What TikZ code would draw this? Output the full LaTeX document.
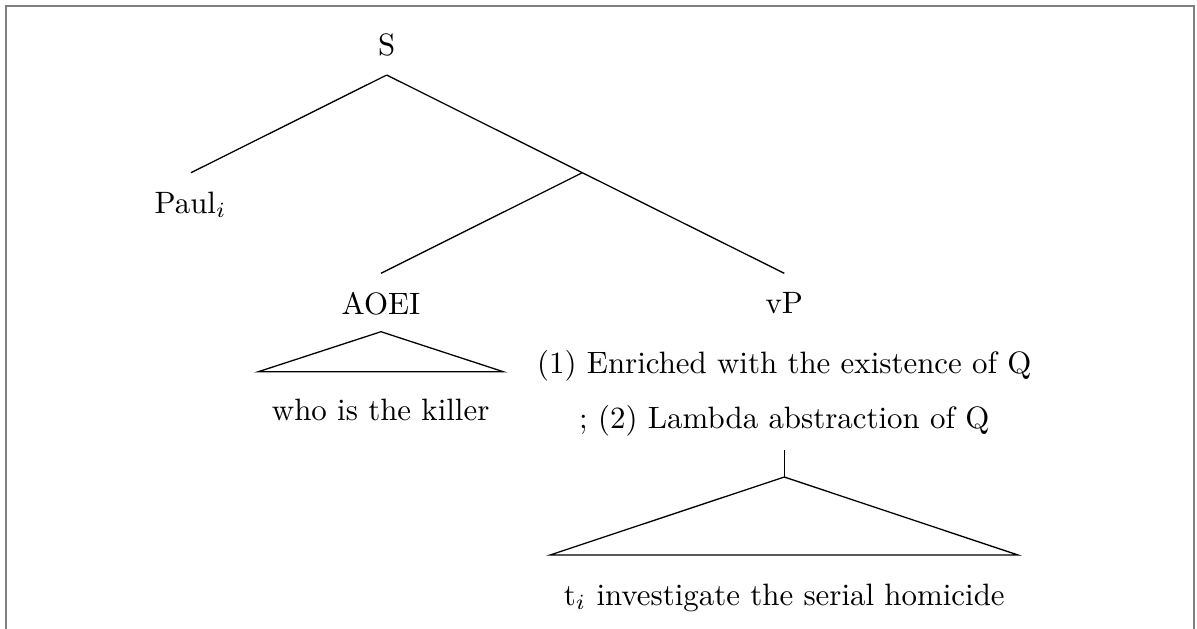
\documentclass[tikz,border=0pt]{standalone}
\begin{document}
\begin{tikzpicture}[x=0.3236pt,y=-0.3236pt,
  frame/.style={draw=black!50,line width=0.65pt},
  edge/.style={draw=black,line width=0.42pt},
  roof/.style={draw=black,line width=0.42pt,line join=miter},
  lbl/.style={inner sep=0pt,anchor=base}]
\useasboundingbox (0,0) rectangle (1197,628);
% outer frame (its lower edge lies below the page)
\begin{scope}
\clip (0,0) rectangle (1197,628);
\draw[frame] (6,6) rectangle (1193.5,700);
\end{scope}

% labels
\node[lbl] (S) at (386.7,55) {S};
\node[lbl] (paul) at (190.5,213) {Paul$_i$};
\node[lbl] (aoei) at (381,314) {AOEI};
\node[lbl] (vp) at (784.3,313) {vP};
\node[lbl] (enr) at (784.3,373) {(1) Enriched with the existence of Q};
\node[lbl] (lam) at (784.3,428) {; (2) Lambda abstraction of Q};
\node[lbl] (who) at (380.7,420) {who is the killer};
\node[lbl] (inv) at (784.3,605) {t$_i$ investigate the serial homicide};

% branch points
\coordinate (S-foot) at (386.7,75);
\coordinate (paul-top) at (191,172.7);
\coordinate (bar) at (582.3,172.7);
\coordinate (aoei-top) at (381,273.3);
\coordinate (vp-top) at (784.3,273.3);
\coordinate (aoei-apex) at (381,331.7);
\coordinate (aoei-l) at (258.3,371.7);
\coordinate (aoei-r) at (503.3,371.7);
\coordinate (lam-foot) at (784.3,450);
\coordinate (inv-apex) at (784.3,477);
\coordinate (inv-l) at (550,555);
\coordinate (inv-r) at (1018,555);

% tree edges
\draw[edge] (S-foot) -- (paul-top);
\draw[edge] (S-foot) -- (bar);
\draw[edge] (bar) -- (aoei-top);
\draw[edge] (bar) -- (vp-top);
\draw[edge] (lam-foot) -- (inv-apex);

% roofs
\draw[roof] (aoei-apex) -- (aoei-l) -- (aoei-r) -- cycle;
\draw[roof] (inv-apex) -- (inv-l) -- (inv-r) -- cycle;
\end{tikzpicture}
\end{document}
